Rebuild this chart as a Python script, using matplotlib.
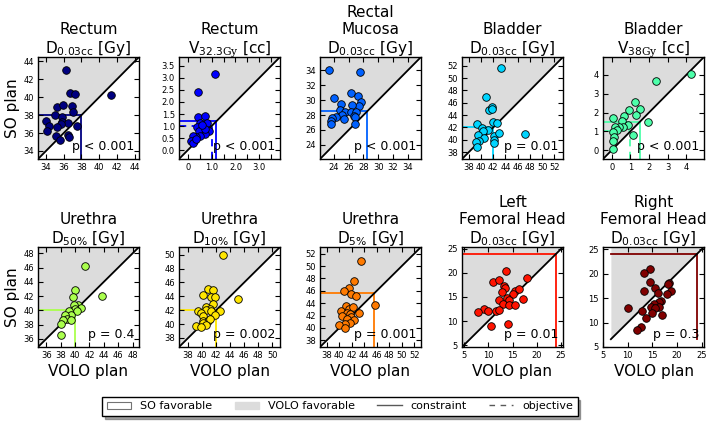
import numpy as np
import matplotlib
matplotlib.use('Agg')
import matplotlib.pyplot as plt
from matplotlib.patches import Patch
from matplotlib.lines import Line2D

plt.rcParams['font.family'] = ['DejaVu Sans']
plt.rcParams['mathtext.fontset'] = 'custom'
plt.rcParams['mathtext.rm'] = 'DejaVu Serif'
plt.rcParams['mathtext.it'] = 'DejaVu Serif:italic'
plt.rcParams['mathtext.bf'] = 'DejaVu Serif:bold'

# ---------------- data (VOLO plan x, SO plan y) ----------------
rectum_d_volo = [36.26, 36.7, 37.25, 41.3, 35.3, 35.96, 36.9, 37.1, 35.0, 35.77, 35.8, 34.04,
                 36.45, 35.66, 34.3, 35.3, 34.07, 37.55, 35.13, 36.45, 36.64, 35.58]
rectum_d_so = [43.0, 40.5, 40.37, 40.25, 38.9, 39.1, 38.98, 38.4, 38.05, 37.8, 37.2, 37.4,
               37.1, 36.97, 36.8, 36.7, 36.24, 36.78, 35.66, 35.74, 35.6, 35.2]

rectum_v_volo = [1.14, 0.43, 0.43, 0.72, 0.53, 0.79, 0.39, 0.59, 0.46, 0.91, 0.72, 0.53,
                 0.36, 0.2, 0.26, 0.13, 0.2, 0.36, 0.72, 0.59]
rectum_v_so = [3.18, 2.43, 1.39, 1.42, 1.14, 1.11, 0.97, 0.86, 0.79, 0.79, 0.65, 0.58,
               0.54, 0.58, 0.38, 0.38, 0.28, 0.47, 0.86, 1.03]

mucosa_volo = [23.3, 27.5, 24.0, 26.27, 27.2, 27.6, 27.4, 25.0, 26.45, 24.8, 25.45, 26.36,
               26.95, 25.1, 26.7, 26.8, 24.3, 23.77, 25.36, 23.6, 23.55, 26.86]
mucosa_so = [34.0, 33.8, 30.3, 30.9, 30.6, 29.7, 29.2, 29.5, 29.3, 28.7, 28.4, 28.46,
             28.4, 28.05, 27.9, 27.7, 27.7, 27.56, 27.47, 27.2, 26.8, 26.8]

bladder_d_volo = [43.3, 40.75, 41.33, 41.86, 41.8, 41.97, 42.66, 39.3, 40.1, 41.17, 40.4,
                  39.5, 40.43, 39.7, 39.16, 39.3, 42.1, 42.2, 42.1, 42.9, 47.15]
bladder_d_so = [51.7, 47.0, 44.87, 45.26, 45.0, 42.94, 42.77, 42.5, 41.9, 41.67, 41.4,
                40.84, 40.3, 39.85, 39.7, 38.9, 40.56, 40.0, 39.46, 41.1, 41.0]

bladder_v_volo = [4.23, 2.36, 1.24, 1.51, 0.92, 1.29, 0.66, 0.05, 0.53, 1.96, 0.85, 0.62,
                  0.37, 0.18, 0.27, 0.04, 1.16, 0.12, 0.09, 0.09]
bladder_v_so = [4.05, 3.65, 2.54, 2.19, 2.15, 1.87, 1.8, 1.69, 1.53, 1.52, 1.36, 1.23,
                1.23, 1.22, 1.06, 0.95, 0.81, 0.7, 0.48, 0.07]

urethra50_volo = [41.35, 43.8, 40.0, 39.7, 40.4, 39.8, 40.9, 40.05, 39.1, 40.3, 39.5,
                  38.56, 38.9, 39.4, 38.3, 38.1, 38.0]
urethra50_so = [46.3, 42.0, 42.8, 41.85, 40.8, 40.7, 40.35, 40.2, 39.9, 39.9, 39.4,
                39.3, 38.8, 38.7, 38.7, 38.05, 36.6]

urethra10_volo = [42.95, 45.1, 40.9, 41.6, 40.16, 41.2, 41.85, 41.5, 40.5, 41.1, 39.44, 40.5,
                  41.2, 42.57, 41.9, 39.8, 40.16, 40.07, 40.9, 41.1, 40.16, 40.5, 39.1, 39.9]
urethra10_so = [49.95, 43.55, 45.06, 44.96, 44.16, 43.93, 43.93, 42.85, 42.4, 42.24, 41.9, 42.0,
                41.9, 41.9, 41.34, 41.53, 41.1, 40.5, 40.5, 40.73, 40.16, 39.9, 39.7, 39.55]

urethra5_volo = [43.55, 42.3, 41.5, 40.8, 41.8, 42.6, 45.7, 41.1, 41.5, 42.2, 40.26, 43.2,
                 41.23, 41.77, 40.5, 41.9, 41.23, 42.3, 41.66, 40.96, 39.9, 40.96]
urethra5_so = [50.8, 47.6, 46.5, 46.0, 45.5, 45.1, 43.76, 43.5, 43.1, 43.3, 42.7, 42.4,
               42.4, 42.3, 41.9, 41.77, 41.5, 41.34, 40.85, 40.7, 40.5, 39.9]

lfem_volo = [13.74, 11.0, 12.2, 17.96, 13.2, 13.5, 15.44, 16.3, 12.86, 15.2, 13.95, 14.3,
             12.24, 17.14, 13.06, 14.2, 15.6, 9.1, 7.8, 10.0, 11.5, 12.24, 10.5, 14.08]
lfem_so = [20.4, 18.1, 18.6, 19.04, 17.3, 16.85, 16.3, 16.6, 15.96, 15.6, 14.8, 14.4,
           14.4, 14.5, 13.56, 13.4, 13.4, 12.47, 11.85, 12.05, 12.05, 12.2, 9.04, 9.3]

rfem_volo = [14.56, 13.25, 14.56, 18.3, 18.1, 15.5, 13.25, 16.1, 18.75, 17.94, 16.87, 16.44,
             15.3, 14.7, 16.4, 15.5, 10.1, 13.0, 15.0, 17.0, 13.75, 12.8, 11.9]
rfem_so = [20.9, 20.14, 18.4, 18.1, 17.9, 17.07, 16.46, 16.15, 16.58, 15.85, 14.43, 14.24,
           13.8, 13.2, 13.2, 12.9, 12.9, 12.4, 11.97, 11.5, 10.86, 9.2, 8.47]

titles = [
    "Rectum\n$\\mathregular{D_{0.03cc}}$ [Gy]",
    "Rectum\n$\\mathregular{V_{32.3\\mathrm{Gy}}}$ [cc]",
    "Rectal\nMucosa\n$\\mathregular{D_{0.03cc}}$ [Gy]",
    "Bladder\n$\\mathregular{D_{0.03cc}}$ [Gy]",
    "Bladder\n$\\mathregular{V_{38\\mathrm{Gy}}}$ [cc]",
    "Urethra\n$\\mathregular{D_{50\\%}}$ [Gy]",
    "Urethra\n$\\mathregular{D_{10\\%}}$ [Gy]",
    "Urethra\n$\\mathregular{D_{5\\%}}$ [Gy]",
    "Left\nFemoral Head\n$\\mathregular{D_{0.03cc}}$ [Gy]",
    "Right\nFemoral Head\n$\\mathregular{D_{0.03cc}}$ [Gy]",
]
p_texts = ["p < 0.001", "p < 0.001", "p < 0.001", "p = 0.01", "p < 0.001",
           "p = 0.4", "p = 0.002", "p = 0.001", "p = 0.01", "p = 0.3"]
constraints = [38, 1.2, 28.5, 42, 1.5, 40, 42, 45.6, 24, 24]
objectives = [None, 1.0, None, None, 1.0, None, None, None, None, None]

volo_all = [rectum_d_volo, rectum_v_volo, mucosa_volo, bladder_d_volo, bladder_v_volo,
            urethra50_volo, urethra10_volo, urethra5_volo, lfem_volo, rfem_volo]
so_all = [rectum_d_so, rectum_v_so, mucosa_so, bladder_d_so, bladder_v_so,
          urethra50_so, urethra10_so, urethra5_so, lfem_so, rfem_so]

limits = [(33.1, 44.5), (-0.37, 3.87), (22.1, 35.8), (36.9, 53.4), (-0.47, 4.95),
          (34.85, 48.9), (36.7, 51.1), (36.9, 53.1), (4.6, 25.4), (6.6, 25.5)]
ticks = [np.arange(34, 45, 2), np.arange(0, 3.6, 0.5), np.arange(24, 35, 2),
         np.arange(38, 53, 2), np.arange(0, 5, 1), np.arange(36, 49, 2),
         np.arange(38, 51, 2), np.arange(38, 53, 2), np.arange(5, 26, 5), np.arange(5, 26, 5)]

colors = plt.cm.jet(np.linspace(0, 1, 10))

fig = plt.figure(figsize=(7.09, 4.22), dpi=100)
lefts = [38, 179, 320, 462, 603]
W, H = 709.0, 422.0

for i in range(10):
    row, col = divmod(i, 5)
    if row == 0:
        top, bot = 57, 159
    else:
        top, bot = 247, 347
    ax = fig.add_axes([lefts[col] / W, (H - bot) / H, 101 / W, (bot - top) / H])
    lo, hi = limits[i]
    ax.fill_between([lo, hi], [lo, hi], [hi, hi], color='#dcdcdc', lw=0, zorder=0)
    ax.plot([lo, hi], [lo, hi], color='k', lw=1.3, zorder=2)
    c = constraints[i]
    col_c = colors[i]
    ax.plot([lo, c], [c, c], color=col_c, lw=1.3, zorder=1)
    ax.plot([c, c], [lo, c], color=col_c, lw=1.3, zorder=1)
    o = objectives[i]
    if o is not None:
        ax.plot([lo, o], [o, o], color=col_c, lw=1.3, dashes=(4, 3), zorder=1)
        ax.plot([o, o], [lo, o], color=col_c, lw=1.3, dashes=(4, 3), zorder=1)
    ax.scatter(volo_all[i], so_all[i], s=30, facecolor=col_c, edgecolor='k',
               linewidth=0.6, zorder=3)
    ax.set_xlim(lo, hi)
    ax.set_ylim(lo, hi)
    t = ticks[i]
    ax.set_xticks(t)
    ax.set_yticks(t)
    if i == 1:
        ax.set_xticklabels(['0', '', '1.0', '', '2.0', '', '3.0', ''])
        ax.set_yticklabels(['%.1f' % v for v in t])
    else:
        ax.set_xticklabels(['%g' % v for v in t])
        ax.set_yticklabels(['%g' % v for v in t])
    ax.tick_params(direction='in', top=True, right=True, length=3.5, width=0.8,
                   labelsize=6, pad=3, colors='k')
    for sp in ax.spines.values():
        sp.set_linewidth(1.0)
    ax.set_title(titles[i], fontsize=11, pad=3, linespacing=1.15)
    ax.text(0.95, 0.06, p_texts[i], transform=ax.transAxes, ha='right', va='bottom',
            fontsize=9, zorder=4)
    if col == 0:
        ax.set_ylabel('SO plan', fontsize=11, labelpad=2)
    if row == 1:
        ax.set_xlabel('VOLO plan', fontsize=11, labelpad=3)

handles = [Patch(facecolor='white', edgecolor='0.45', lw=0.8),
           Patch(facecolor='#dcdcdc', edgecolor='#dcdcdc'),
           Line2D([], [], color='0.35', lw=1.0),
           Line2D([], [], color='0.35', lw=1.0, dashes=(4, 4))]
labels = ['SO favorable', 'VOLO favorable', 'constraint', 'objective']
leg = fig.legend(handles, labels, loc='center', bbox_to_anchor=(340 / W, 0.037), ncol=4,
                 fontsize=8, frameon=True, fancybox=False, shadow=True,
                 handlelength=2.2, columnspacing=2.0, borderpad=0.4, handletextpad=0.8)
leg.get_frame().set_edgecolor('k')
leg.get_frame().set_linewidth(1.0)

fig.savefig('out.png', dpi=100)
